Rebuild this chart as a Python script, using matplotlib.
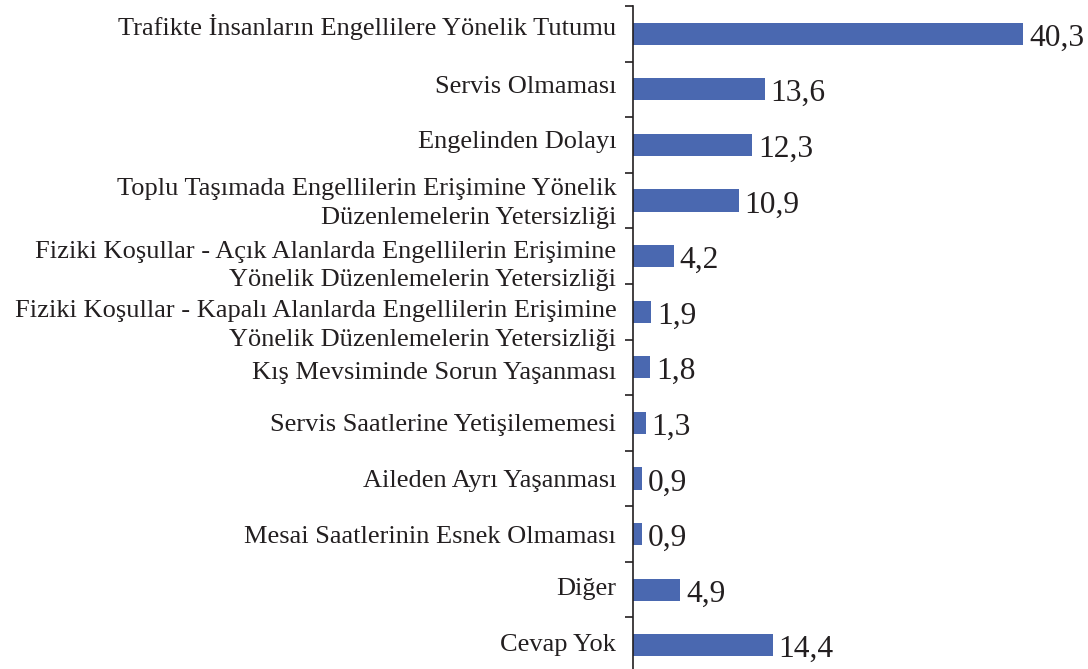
import matplotlib.pyplot as plt
import matplotlib.transforms as mtransforms

categories = [
    "Trafikte İnsanların Engellilere Yönelik Tutumu",
    "Servis Olmaması",
    "Engelinden Dolayı",
    "Toplu Taşımada Engellilerin Erişimine Yönelik\nDüzenlemelerin Yetersizliği",
    "Fiziki Koşullar - Açık Alanlarda Engellilerin Erişimine\nYönelik Düzenlemelerin Yetersizliği",
    "Fiziki Koşullar - Kapalı Alanlarda Engellilerin Erişimine\nYönelik Düzenlemelerin Yetersizliği",
    "Kış Mevsiminde Sorun Yaşanması",
    "Servis Saatlerine Yetişilememesi",
    "Aileden Ayrı Yaşanması",
    "Mesai Saatlerinin Esnek Olmaması",
    "Diğer",
    "Cevap Yok",
]
values = [40.3, 13.6, 12.3, 10.9, 4.2, 1.9, 1.8, 1.3, 0.9, 0.9, 4.9, 14.4]
value_labels = ["40,3", "13,6", "12,3", "10,9", "4,2", "1,9", "1,8", "1,3", "0,9", "0,9", "4,9", "14,4"]

# small vertical nudges (pixels, + is down) so the labels sit where the original has them
label_nudge_px = [-9, -5, -5, -3, 4, 8, 3, 0, 0, 0, -3, -3]

plt.rcParams['font.family'] = ['Liberation Serif', 'DejaVu Serif']

fig = plt.figure(figsize=(10.88, 6.69), dpi=100)
ax = fig.add_axes([633 / 1088, -4 / 669, 436 / 1088, 667 / 669])

pos = list(range(len(categories)))
ax.barh(pos, values, height=0.4, color='#4A68B0')
ax.set_ylim(len(categories) - 0.5, -0.5)
ax.set_xlim(0, 45)

for p, v, lab in zip(pos, values, value_labels):
    ax.text(v + 0.6, p + 0.08, lab, va='center', ha='left', fontsize=22.7, color='#231f20')

ax.set_yticks(pos)
ax.set_yticklabels(categories, fontsize=19, color='#231f20', linespacing=1.38)
ax.set_yticks([p - 0.5 for p in pos] + [len(pos) - 0.5], minor=True)
ax.tick_params(axis='y', which='major', length=0, pad=12)
ax.tick_params(axis='y', which='minor', length=6, width=1.2, color='#231f20', direction='out')

for lbl, dy in zip(ax.get_yticklabels(), label_nudge_px):
    lbl.set_transform(lbl.get_transform() + mtransforms.ScaledTranslation(0, -dy / 100, fig.dpi_scale_trans))

ax.set_xticks([])
for s in ['top', 'right', 'bottom']:
    ax.spines[s].set_visible(False)
ax.spines['left'].set_color('#231f20')
ax.spines['left'].set_linewidth(1.2)

fig.savefig('out.png', dpi=100)
